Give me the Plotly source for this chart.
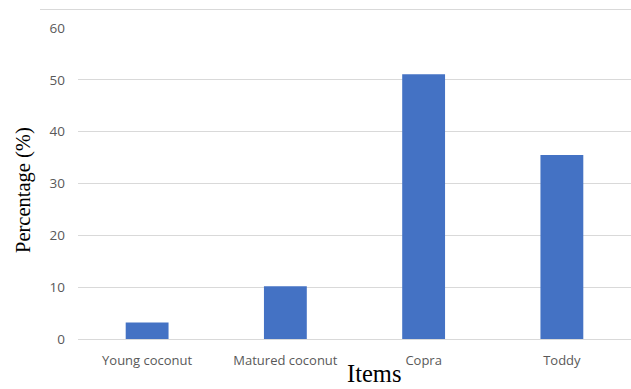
import plotly.graph_objects as go

categories = ["Young coconut", "Matured coconut", "Copra", "Toddy"]
percentages = [3.2, 10.2, 51.1, 35.5]
y_ticks = [0, 10, 20, 30, 40, 50, 60]

W, H = 631, 389
L, R, T, B = 78, 0, 28, 50
pw, ph = W - L - R, H - T - B

def px_x(x):
    return (x - L) / pw

def px_y(y):
    return (H - B - y) / ph

fig = go.Figure(go.Bar(
    x=categories, y=percentages,
    marker=dict(color="#4472C4", line=dict(width=0)),
    width=0.31,
))

fig.update_layout(
    width=W, height=H,
    margin=dict(l=L, r=R, t=T, b=B),
    paper_bgcolor="white", plot_bgcolor="white",
    showlegend=False,
    font=dict(family="Open Sans", size=13, color="#595959"),
    xaxis=dict(showgrid=False, showline=True, linecolor="#d9d9d9", linewidth=1,
               ticks="", tickfont=dict(size=13, color="#595959"), ticklabelstandoff=9),
    yaxis=dict(range=[0, 60], tickvals=y_ticks, showgrid=True, gridcolor="#d9d9d9",
               gridwidth=1, zeroline=False, showline=False, ticks="",
               tickfont=dict(size=13.5, color="#595959"), ticklabelstandoff=12),
    annotations=[
        dict(text="Percentage (%)", x=px_x(23), y=px_y(190), xref="paper", yref="paper",
             xanchor="center", yanchor="middle",
             showarrow=False, textangle=-90,
             font=dict(family="Liberation Serif", size=20.5, color="black")),
        dict(text="Items", x=px_x(374), y=px_y(373), xref="paper", yref="paper",
             xanchor="center", yanchor="middle", showarrow=False,
             font=dict(family="Liberation Serif", size=24.5, color="black")),
    ],
)

fig.add_shape(type="line", xref="paper", yref="paper",
              x0=px_x(40), x1=1.0, y0=px_y(9.5), y1=px_y(9.5),
              line=dict(color="#d9d9d9", width=1))

fig.write_html("out.html")
